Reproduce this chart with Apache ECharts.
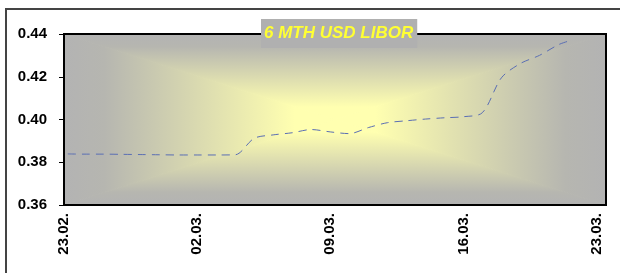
<!DOCTYPE html>
<html>
<head>
<meta charset="utf-8">
<script src="https://cdn.jsdelivr.net/npm/echarts@6/dist/echarts.min.js"></script>
<style>
  html, body { margin: 0; padding: 0; background: #fff; }
  #chart { width: 620px; height: 273px; }
</style>
</head>
<body>
<div id="chart"></div>
<script>
// days after 23.02.
var days = [0.2, 1, 2, 3, 4, 5, 6, 7, 8, 9, 10, 11, 12, 13, 14, 15, 16, 17, 18, 19, 20, 21, 22, 23, 24, 25, 26, 26.5];
var libor = [0.3839, 0.3838, 0.3838, 0.3837, 0.3836, 0.3835, 0.3834, 0.3834, 0.3834, 0.3835,
  0.3912, 0.3928, 0.3938, 0.3953, 0.3942, 0.3934, 0.3962, 0.3985, 0.3994, 0.4002, 0.4008,
  0.4013, 0.4032, 0.4195, 0.4262, 0.4300, 0.4350, 0.4366];
var dateLabels = ['23.02.', '02.03.', '09.03.', '16.03.', '23.03.'];
var yTicks = [0.36, 0.38, 0.40, 0.42, 0.44];

var chart = echarts.init(document.getElementById('chart'));

// plot area in pixels
var L = 64, T = 34, W = 542, H = 171;
var cx = L + W / 2, cy = T + H / 2;
var GRAY = '#b3b3b3', YEL = '#ffffb0';

function grad(x, y, x2, y2) {
  return {
    type: 'linear', x: x, y: y, x2: x2, y2: y2,
    colorStops: [
      { offset: 0, color: GRAY },
      { offset: 0.15, color: '#b6b6b0' },
      { offset: 0.85, color: YEL },
      { offset: 1, color: YEL }
    ]
  };
}
function tri(points, g) {
  return { type: 'polygon', shape: { points: points }, style: { fill: g, stroke: g, lineWidth: 1 }, z: 0 };
}

var pts = [];
for (var i = 0; i < days.length; i++) pts.push([days[i], libor[i]]);

chart.setOption({
  animation: false,
  title: {
    text: '6 MTH USD LIBOR',
    left: 261, top: 19,
    padding: [5, 4, 5, 3],
    backgroundColor: '#b0b0b0',
    z: 20,
    textStyle: {
      color: '#ffff33', fontSize: 17, lineHeight: 19, fontWeight: 'bold', fontStyle: 'italic',
      fontFamily: 'Liberation Sans, Arial, sans-serif'
    }
  },
  grid: { left: L, top: T, width: W, height: H },
  graphic: [
    // outer frame
    { type: 'rect', shape: { x: 6, y: 9, width: 640, height: 300 }, style: { fill: 'none', stroke: '#444', lineWidth: 2 }, z: 0 },
    // rectangular "from centre" gradient
    tri([[L, T], [L + W, T], [cx, cy]], grad(0, 0, 0, 1)),
    tri([[L, T + H], [L + W, T + H], [cx, cy]], grad(0, 1, 0, 0)),
    tri([[L, T], [L, T + H], [cx, cy]], grad(0, 0, 1, 0)),
    tri([[L + W, T], [L + W, T + H], [cx, cy]], grad(1, 0, 0, 0)),
    // plot border
    { type: 'rect', shape: { x: L, y: T, width: W, height: H }, style: { fill: 'none', stroke: '#000', lineWidth: 2 }, z: 8 }
  ],
  xAxis: {
    type: 'value', min: 0, max: 28.5, interval: 7,
    splitLine: { show: false },
    axisLine: { show: false },
    axisTick: { show: false },
    axisLabel: {
      rotate: 90, margin: 8, color: '#000', fontSize: 15, fontWeight: 'bold',
      fontFamily: 'Liberation Sans, Arial, sans-serif',
      showMaxLabel: true,
      formatter: function (v) {
        var k = v / 7;
        return Math.abs(k - Math.round(k)) < 1e-6 ? (dateLabels[Math.round(k)] || '') : '';
      }
    }
  },
  yAxis: {
    type: 'value', min: yTicks[0], max: yTicks[yTicks.length - 1], interval: 0.02,
    splitLine: { show: false },
    axisLine: { show: true, lineStyle: { color: '#000', width: 1 } },
    axisTick: { show: true, length: 5, lineStyle: { color: '#000' } },
    axisLabel: {
      margin: 17, color: '#000', fontSize: 15, fontWeight: 'bold',
      fontFamily: 'Liberation Sans, Arial, sans-serif',
      formatter: function (v) { return v.toFixed(2); }
    }
  },
  series: [{
    type: 'line',
    data: pts,
    smooth: 0.3,
    showSymbol: false,
    z: 5,
    lineStyle: { color: '#5a6eb4', width: 1, type: [8, 6] }
  }]
});
</script>
</body>
</html>
